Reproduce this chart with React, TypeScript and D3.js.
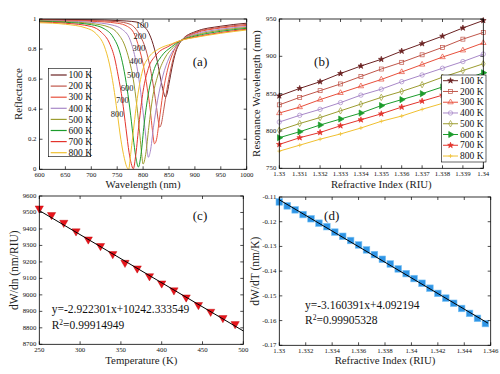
import React from 'react';
import * as d3 from 'd3';

const FONT = "'Liberation Serif', 'Times New Roman', serif";

// ---------- shared ----------
const tempLabels = ['100 K', '200 K', '300 K', '400 K', '500 K', '600 K', '700 K', '800 K'];
const tempShort = ['100', '200', '300', '400', '500', '600', '700', '800'];
const colors = ['#6b2222', '#c0564a', '#e8503c', '#a888c8', '#9c9c30', '#1c9c2c', '#e3342c', '#f0c030'];

// ---------- panel (a): reflectance spectra [wavelength nm, reflectance] ----------
const specA100 = [[600, 0.998], [650, 0.997], [700, 0.995], [750, 0.99], [787, 0.98], [798, 0.96], [812, 0.9], [822, 0.8], [828, 0.71], [834, 0.6], [839, 0.52], [843, 0.48], [846, 0.5], [850, 0.57], [856, 0.68], [863, 0.78], [869, 0.83], [875, 0.86], [900, 0.915], [950, 0.952], [1000, 0.972]];
const specA200 = [[600, 0.996], [650, 0.994], [700, 0.99], [750, 0.982], [775, 0.965], [794, 0.89], [805, 0.8], [814, 0.67], [821, 0.53], [826, 0.41], [829, 0.33], [832, 0.28], [835, 0.3], [840, 0.4], [846, 0.53], [853, 0.66], [861, 0.77], [868, 0.83], [875, 0.86], [900, 0.91], [950, 0.945], [1000, 0.964]];
const specA300 = [[600, 0.993], [650, 0.99], [700, 0.985], [750, 0.972], [770, 0.95], [783, 0.9], [792, 0.81], [800, 0.7], [808, 0.54], [814, 0.39], [818, 0.26], [822, 0.17], [826, 0.2], [831, 0.32], [838, 0.5], [847, 0.66], [857, 0.77], [866, 0.83], [875, 0.86], [900, 0.905], [950, 0.94], [1000, 0.957]];
const specA400 = [[600, 0.99], [650, 0.986], [700, 0.978], [740, 0.96], [760, 0.93], [775, 0.86], [786, 0.72], [794, 0.55], [800, 0.38], [805, 0.22], [808, 0.12], [810, 0.08], [814, 0.12], [820, 0.28], [828, 0.46], [838, 0.62], [850, 0.74], [862, 0.81], [875, 0.86], [900, 0.898], [950, 0.932], [1000, 0.95]];
const specA500 = [[600, 0.988], [650, 0.982], [700, 0.97], [735, 0.945], [752, 0.9], [765, 0.82], [773, 0.73], [781, 0.6], [788, 0.42], [794, 0.22], [797, 0.11], [800, 0.035], [805, 0.1], [811, 0.28], [818, 0.47], [828, 0.62], [842, 0.74], [858, 0.81], [875, 0.86], [900, 0.892], [950, 0.925], [1000, 0.944]];
const specA600 = [[600, 0.985], [650, 0.978], [700, 0.962], [725, 0.935], [742, 0.88], [755, 0.78], [762, 0.68], [769, 0.54], [776, 0.36], [782, 0.18], [787, 0.06], [791, 0.015], [796, 0.1], [802, 0.3], [810, 0.5], [820, 0.65], [835, 0.75], [855, 0.815], [875, 0.86], [900, 0.886], [950, 0.918], [1000, 0.938]];
const specA700 = [[600, 0.98], [650, 0.972], [700, 0.95], [720, 0.91], [735, 0.84], [745, 0.74], [752, 0.62], [760, 0.46], [767, 0.27], [773, 0.11], [777, 0.04], [781, 0.003], [786, 0.1], [792, 0.3], [800, 0.52], [810, 0.67], [825, 0.76], [850, 0.82], [875, 0.86], [900, 0.88], [950, 0.91], [1000, 0.932]];
const specA800 = [[600, 0.975], [650, 0.965], [690, 0.94], [710, 0.9], [725, 0.82], [735, 0.7], [743, 0.55], [750, 0.38], [757, 0.2], [764, 0.07], [768, 0.02], [772, 0.0], [776, 0.1], [780, 0.22], [790, 0.5], [800, 0.67], [812, 0.75], [830, 0.8], [855, 0.835], [875, 0.86], [900, 0.877], [950, 0.905], [1000, 0.927]];
const spectraA = [specA100, specA200, specA300, specA400, specA500, specA600, specA700, specA800];
const xTicksA = [600, 650, 700, 750, 800, 850, 900, 950, 1000];
const yTicksA = [0, 0.2, 0.4, 0.6, 0.8, 1];
const curveLabelPosA = [[798, 0.96], [794, 0.89], [792, 0.81], [786, 0.72], [781, 0.63], [769, 0.54], [760, 0.46], [750, 0.37]];

// ---------- panel (b): resonance wavelength vs refractive index ----------
const riuB = [1.33, 1.331, 1.332, 1.333, 1.334, 1.335, 1.336, 1.337, 1.338, 1.339, 1.34];
const resB100 = [847, 857, 866, 877, 887, 896, 907, 917, 927, 938, 948];
const resB200 = [835, 845, 854, 863, 873, 883, 892, 902, 912, 923, 932];
const resB300 = [824, 832, 842, 851, 860, 869, 879, 889, 899, 908, 918];
const resB400 = [812, 821, 829, 838, 848, 856, 866, 875, 884, 893, 903];
const resB500 = [801, 810, 818, 827, 836, 845, 853, 862, 872, 881, 890];
const resB600 = [791, 799, 808, 816, 824, 834, 842, 850, 859, 868, 878];
const resB700 = [782, 791, 798, 807, 815, 823, 832, 840, 848, 857, 866];
const resB800 = [773, 781, 789, 796, 804, 813, 820, 829, 837, 846, 855];
const seriesB = [resB100, resB200, resB300, resB400, resB500, resB600, resB700, resB800];
const markersB = ['star', 'square', 'triUp', 'circle', 'diamond', 'triRight', 'star', 'plus'];
const filledB = [true, false, false, false, false, true, true, false];
const xTicksB = [1.33, 1.331, 1.332, 1.333, 1.334, 1.335, 1.336, 1.337, 1.338, 1.339, 1.34];
const yTicksB = [750, 800, 850, 900, 950];

// ---------- panel (c): sensitivity vs temperature ----------
const tempC = [250, 265, 280, 295, 310, 325, 340, 355, 370, 385, 400, 415, 430, 445, 460, 475, 490];
const dwdnC = [9519, 9479, 9432, 9380, 9331, 9291, 9242, 9189, 9155, 9108, 9064, 9022, 8979, 8933, 8892, 8854, 8817];
const fitSlopeC = -2.922301;
const fitInterceptC = 10242.333549;
const fitRangeC = [250, 500];
const xTicksC = [250, 300, 350, 400, 450, 500];
const yTicksC = [8700, 8800, 8900, 9000, 9100, 9200, 9300, 9400, 9500, 9600];

// ---------- panel (d): dW/dT vs refractive index ----------
const riuD = [1.33, 1.3306, 1.3312, 1.3318, 1.3324, 1.333, 1.3336, 1.3342, 1.3348, 1.3354, 1.336, 1.3366, 1.3372, 1.3378, 1.3384, 1.339, 1.3396, 1.3402, 1.3408, 1.3414, 1.342, 1.3426, 1.3432, 1.3438, 1.3444, 1.345, 1.3456];
const dwdtD = [-0.112, -0.1136, -0.1152, -0.1171, -0.1188, -0.1206, -0.122, -0.1242, -0.1259, -0.1276, -0.1294, -0.1314, -0.1333, -0.1352, -0.1371, -0.1391, -0.141, -0.143, -0.1449, -0.1469, -0.149, -0.1509, -0.153, -0.1551, -0.1571, -0.1591, -0.1612];
const fitSlopeD = -3.160391;
const fitInterceptD = 4.092194;
const fitRangeD = [1.33, 1.3458];
const xTicksD = [1.33, 1.332, 1.334, 1.336, 1.338, 1.34, 1.342, 1.344, 1.346];
const yTicksD = [-0.17, -0.16, -0.15, -0.14, -0.13, -0.12, -0.11];

type Scale = d3.ScaleLinear<number, number>;

function Frame({ xs, ys, xTicks, yTicks, xLabel, yLabel, xLabelY, yLabelX, yLabelSize = 11 }:
  { xs: Scale; ys: Scale; xTicks: number[]; yTicks: number[]; xLabel: string; yLabel: string; xLabelY: number; yLabelX: number; yLabelSize?: number }) {
  const [x0, x1] = xs.range();
  const [y0, y1] = ys.range(); // y0 bottom, y1 top
  const tl = 3;
  return (
    <g>
      <rect x={x0} y={y1} width={x1 - x0} height={y0 - y1} fill="none" stroke="#000" strokeWidth={0.8} />
      {xTicks.map((t, i) => (
        <g key={'xt' + i}>
          <line x1={xs(t)} x2={xs(t)} y1={y0} y2={y0 - tl} stroke="#000" strokeWidth={0.7} />
          <line x1={xs(t)} x2={xs(t)} y1={y1} y2={y1 + tl} stroke="#000" strokeWidth={0.7} />
          <text x={xs(t)} y={y0 + 7.8} fontSize={6.8} textAnchor="middle" fontFamily={FONT} fill="#111">{String(t)}</text>
        </g>
      ))}
      {yTicks.map((t, i) => (
        <g key={'yt' + i}>
          <line x1={x0} x2={x0 + tl} y1={ys(t)} y2={ys(t)} stroke="#000" strokeWidth={0.7} />
          <line x1={x1} x2={x1 - tl} y1={ys(t)} y2={ys(t)} stroke="#000" strokeWidth={0.7} />
          <text x={x0 - 3} y={ys(t) + 2} fontSize={6.8} textAnchor="end" fontFamily={FONT} fill="#111">{String(t)}</text>
        </g>
      ))}
      <text x={(x0 + x1) / 2} y={xLabelY} fontSize={10.8} textAnchor="middle" fontFamily={FONT} fill="#222">{xLabel}</text>
      <text transform={`translate(${yLabelX},${(y0 + y1) / 2}) rotate(-90)`} fontSize={yLabelSize} textAnchor="middle" fontFamily={FONT} fill="#222">{yLabel}</text>
    </g>
  );
}

function Marker({ type, x, y, color, filled }: { type: string; x: number; y: number; color: string; filled: boolean }) {
  const fill = filled ? color : 'none';
  if (type === 'square') return <rect x={x - 2} y={y - 2} width={4} height={4} fill={fill} stroke={color} strokeWidth={0.7} />;
  if (type === 'circle') return <circle cx={x} cy={y} r={2.2} fill={fill} stroke={color} strokeWidth={0.7} />;
  if (type === 'plus') return (
    <g stroke={color} strokeWidth={0.7}>
      <line x1={x - 2} x2={x + 2} y1={y} y2={y} />
      <line x1={x} x2={x} y1={y - 2} y2={y + 2} />
    </g>
  );
  let sym: d3.SymbolType = d3.symbolStar;
  let size = 10;
  let rot = 0;
  if (type === 'triUp') { sym = d3.symbolTriangle; size = 13; }
  if (type === 'diamond') { sym = d3.symbolDiamond; size = 12; }
  if (type === 'triRight') { sym = d3.symbolTriangle; size = 16; rot = 90; }
  const p = d3.symbol(sym, size)() || '';
  return <path d={p} transform={`translate(${x},${y}) rotate(${rot})`} fill={fill} stroke={color} strokeWidth={0.7} />;
}

export default function App() {
  // panel (a)
  const xa = d3.scaleLinear().domain([600, 1000]).range([39.5, 246.7]);
  const ya = d3.scaleLinear().domain([0, 1]).range([169.3, 19]);
  const lineA = d3.line<number[]>().x(d => xa(d[0])).y(d => ya(d[1])).curve(d3.curveMonotoneX);

  // panel (b)
  const xb = d3.scaleLinear().domain([1.33, 1.34]).range([279.3, 483.3]);
  const yb = d3.scaleLinear().domain([750, 950]).range([168.3, 19]);
  const lineB = d3.line<number>().x((_, i) => xb(riuB[i])).y(d => yb(d));

  // panel (c)
  const xc = d3.scaleLinear().domain([250, 500]).range([39.3, 243.3]);
  const yc = d3.scaleLinear().domain([8700, 9600]).range([344.3, 196]);
  const triDown = d3.symbol(d3.symbolTriangle, 30)() || '';

  // panel (d)
  const xd = d3.scaleLinear().domain([1.33, 1.346]).range([279.3, 490.7]);
  const yd = d3.scaleLinear().domain([-0.17, -0.11]).range([345.3, 197]);

  return (
    <svg width={500} height={374} style={{ position: 'absolute', left: 0, top: 0, background: '#fff' }} fontFamily={FONT}>
      <rect x={0} y={0} width={500} height={374} fill="#fff" />

      {/* ---------- (a) ---------- */}
      <g>
        <defs>
          <clipPath id="clipA"><rect x={39.5} y={18.5} width={207.2} height={151} /></clipPath>
        </defs>
        <g clipPath="url(#clipA)">
          {spectraA.map((s, i) => (
            <path key={i} d={lineA(s) || ''} fill="none" stroke={colors[i]} strokeWidth={1} />
          ))}
        </g>
        {curveLabelPosA.map((p, i) => (
          <text key={i} x={xa(p[0])} y={ya(p[1]) + 3} fontSize={8.5} textAnchor="middle" fill="#222">{tempShort[i]}</text>
        ))}
        <Frame xs={xa} ys={ya} xTicks={xTicksA} yTicks={yTicksA} xLabel="Wavelength (nm)" yLabel="Reflectance" xLabelY={188} yLabelX={22} />
        <text x={200} y={65.5} fontSize={13} textAnchor="middle" fill="#111">(a)</text>
        <rect x={48.3} y={68.3} width={42.4} height={88.4} fill="#fff" stroke="#000" strokeWidth={0.6} />
        {tempLabels.map((t, i) => {
          const y = 75 + 11.1 * i;
          return (
            <g key={i}>
              <line x1={50.7} x2={66.7} y1={y} y2={y} stroke={colors[i]} strokeWidth={1.2} />
              <text x={68.5} y={y + 3.2} fontSize={9.5} fill="#111">{t}</text>
            </g>
          );
        })}
      </g>

      {/* ---------- (b) ---------- */}
      <g>
        {seriesB.map((s, i) => (
          <g key={i}>
            <path d={lineB(s) || ''} fill="none" stroke={colors[i]} strokeWidth={1} />
            {s.map((v, j) => (
              <Marker key={j} type={markersB[i]} x={xb(riuB[j])} y={yb(v)} color={colors[i]} filled={filledB[i]} />
            ))}
          </g>
        ))}
        <Frame xs={xb} ys={yb} xTicks={xTicksB} yTicks={yTicksB} xLabel="Refractive Index (RIU)" yLabel="Resonance Wavelength (nm)" xLabelY={188} yLabelX={259.5} />
        <text x={321.7} y={65.5} fontSize={13} textAnchor="middle" fill="#111">(b)</text>
        <rect x={441.5} y={75} width={44.5} height={87} fill="#fff" stroke="#000" strokeWidth={0.6} />
        {tempLabels.map((t, i) => {
          const y = 80.7 + 10.76 * i;
          return (
            <g key={i}>
              <line x1={443} x2={458} y1={y} y2={y} stroke={colors[i]} strokeWidth={1} />
              <Marker type={markersB[i]} x={450.5} y={y} color={colors[i]} filled={filledB[i]} />
              <text x={460} y={y + 3.2} fontSize={9.5} fill="#111">{t}</text>
            </g>
          );
        })}
      </g>

      {/* ---------- (c) ---------- */}
      <g>
        {tempC.map((t, i) => (
          <path key={i} d={triDown} transform={`translate(${xc(t)},${yc(dwdnC[i]) - 1}) rotate(180)`} fill="#e8141c" stroke="#b00" strokeWidth={0.4} />
        ))}
        <line x1={xc(fitRangeC[0])} x2={xc(fitRangeC[1])}
          y1={yc(fitSlopeC * fitRangeC[0] + fitInterceptC)} y2={yc(fitSlopeC * fitRangeC[1] + fitInterceptC)}
          stroke="#000" strokeWidth={1} />
        <Frame xs={xc} ys={yc} xTicks={xTicksC} yTicks={yTicksC} xLabel="Temperature (K)" yLabel="dW/dn (nm/RIU)" xLabelY={363.5} yLabelX={17.5} yLabelSize={11.5} />
        <text x={200} y={219.5} fontSize={13} textAnchor="middle" fill="#111">(c)</text>
        <text x={51.7} y={313.3} fontSize={11.5} fill="#111">y=-2.922301x+10242.333549</text>
        <text x={51.7} y={328.5} fontSize={11.5} fill="#111">R<tspan dy={-4} fontSize={7.5}>2</tspan><tspan dy={4}>=0.99914949</tspan></text>
      </g>

      {/* ---------- (d) ---------- */}
      <g>
        {riuD.map((r, i) => (
          <rect key={i} x={xd(r) - 3.3} y={yd(dwdtD[i]) - 3.3} width={6.6} height={6.6} fill="#2f95e6" stroke="#7cc4f5" strokeWidth={0.6} />
        ))}
        <line x1={xd(fitRangeD[0])} x2={xd(fitRangeD[1])}
          y1={yd(fitSlopeD * fitRangeD[0] + fitInterceptD)} y2={yd(fitSlopeD * fitRangeD[1] + fitInterceptD)}
          stroke="#000" strokeWidth={1} />
        <Frame xs={xd} ys={yd} xTicks={xTicksD} yTicks={yTicksD} xLabel="Refractive Index (RIU)" yLabel="dW/dT (nm/K)" xLabelY={363.5} yLabelX={258.5} yLabelSize={11.5} />
        <text x={331.7} y={219.5} fontSize={13} textAnchor="middle" fill="#111">(d)</text>
        <text x={305} y={308.5} fontSize={11.5} fill="#111">y=-3.160391x+4.092194</text>
        <text x={305} y={324} fontSize={11.5} fill="#111">R<tspan dy={-4} fontSize={7.5}>2</tspan><tspan dy={4}>=0.99905328</tspan></text>
      </g>
    </svg>
  );
}
